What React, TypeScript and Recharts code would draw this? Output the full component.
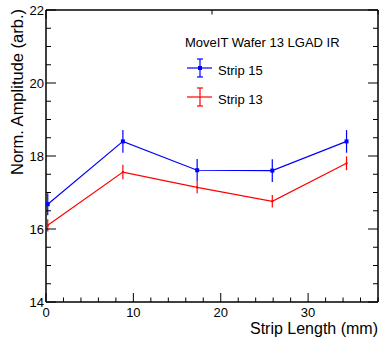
import { ComposedChart, Line, XAxis, YAxis, ErrorBar, Legend, Label } from 'recharts';

const stripLength = [0.2, 8.8, 17.3, 25.9, 34.4];
const strip15 = [16.68, 18.4, 17.61, 17.6, 18.4];
const strip15Err = [0.3, 0.31, 0.31, 0.31, 0.31];
const strip13 = [16.1, 17.56, 17.14, 16.76, 17.8];
const strip13Err = [0.17, 0.2, 0.16, 0.17, 0.19];

const xTicks = Array.from({ length: 20 }, (_, i) => i * 2);
const yTicks = Array.from({ length: 17 }, (_, i) => 14 + i * 0.5);
const xMajor = [0, 10, 20, 30];
const yMajor = [14, 16, 18, 20, 22];

const FONT = '"Liberation Sans", Arial, Helvetica, sans-serif';
const BLUE = '#0000ff';
const RED = '#ff0000';

const data = stripLength.map((x, i) => ({
  x,
  s15: strip15[i],
  s15Err: strip15Err[i],
  s13: strip13[i],
  s13Err: strip13Err[i],
}));

const XTick = ({ x, y, payload, top }: any) => {
  const major = xMajor.includes(payload.value);
  const len = major ? 9 : 4.5;
  const dir = top ? 1 : -1;
  return (
    <g>
      <line x1={x} y1={y} x2={x} y2={y + dir * len} stroke="#000" strokeWidth={1} />
      {!top && major && (
        <text x={x} y={y + 15} textAnchor="middle" fontSize={13} fontFamily={FONT} fill="#000">
          {payload.value}
        </text>
      )}
    </g>
  );
};

const YTick = ({ x, y, payload, right }: any) => {
  const major = yMajor.includes(payload.value);
  const len = major ? 10 : 5;
  const dir = right ? -1 : 1;
  return (
    <g>
      <line x1={x} y1={y} x2={x + dir * len} y2={y} stroke="#000" strokeWidth={1} />
      {!right && major && (
        <text x={x - 2} y={y + 4.5} textAnchor="end" fontSize={13} fontFamily={FONT} fill="#000">
          {payload.value}
        </text>
      )}
    </g>
  );
};

const BlueDot = ({ cx, cy }: any) => (
  <rect x={cx - 2} y={cy - 2} width={4} height={4} fill={BLUE} />
);
const RedDot = ({ cx, cy }: any) => (
  <rect x={cx - 1} y={cy - 1} width={2} height={2} fill={RED} />
);

const LegendBox = () => (
  <svg width={382} height={120} style={{ display: 'block' }}>
    <text x={185} y={47} fontSize={13} fontFamily={FONT} fill="#000">
      MoveIT Wafer 13 LGAD IR
    </text>
    <g stroke={BLUE} strokeWidth={1.2}>
      <line x1={187} y1={68} x2={212} y2={68} />
      <line x1={200} y1={59} x2={200} y2={77} />
      <line x1={197} y1={59} x2={203} y2={59} />
      <line x1={197} y1={77} x2={203} y2={77} />
    </g>
    <rect x={198} y={66} width={4} height={4} fill={BLUE} />
    <text x={218} y={74.5} fontSize={13} fontFamily={FONT} fill="#000">
      Strip 15
    </text>
    <g stroke={RED} strokeWidth={1.2}>
      <line x1={187} y1={97} x2={212} y2={97} />
      <line x1={200} y1={88} x2={200} y2={106} />
      <line x1={197} y1={88} x2={203} y2={88} />
      <line x1={197} y1={106} x2={203} y2={106} />
    </g>
    <text x={218} y={103.5} fontSize={13} fontFamily={FONT} fill="#000">
      Strip 13
    </text>
  </svg>
);

export default function App() {
  return (
    <div style={{ position: 'absolute', left: 0, top: 0, background: '#fff' }}>
      <ComposedChart
        width={382}
        height={337}
        data={data}
        margin={{ top: 0, right: 0, left: 0, bottom: 0 }}
      >
        <XAxis
          xAxisId="b"
          dataKey="x"
          type="number"
          domain={[0, 38]}
          ticks={xTicks}
          interval={0}
          allowDataOverflow
          height={35}
          tickSize={0}
          tickMargin={0}
          tickLine={false}
          tick={<XTick />}
          axisLine={{ stroke: '#000', strokeWidth: 1.5 }}
        >
          <Label
            content={({ viewBox }: any) => (
              <text
                x={viewBox.x + viewBox.width}
                y={viewBox.y + 32}
                textAnchor="end"
                fontSize={16}
                fontFamily={FONT}
                fill="#000"
              >
                Strip Length (mm)
              </text>
            )}
          />
        </XAxis>
        <XAxis
          xAxisId="t"
          orientation="top"
          type="number"
          domain={[0, 38]}
          ticks={xTicks}
          interval={0}
          allowDataOverflow
          height={10}
          tickSize={0}
          tickMargin={0}
          tickLine={false}
          tick={<XTick top />}
          axisLine={{ stroke: '#000', strokeWidth: 1.5 }}
        />
        <YAxis
          yAxisId="l"
          type="number"
          domain={[14, 22]}
          ticks={yTicks}
          interval={0}
          allowDataOverflow
          width={46}
          tickSize={0}
          tickMargin={0}
          tickLine={false}
          tick={<YTick />}
          axisLine={{ stroke: '#000', strokeWidth: 1.5 }}
        >
          <Label
            content={({ viewBox }: any) => (
              <text
                x={23}
                y={viewBox.y - 1}
                transform={`rotate(-90 23 ${viewBox.y - 1})`}
                textAnchor="end"
                fontSize={16.5}
                fontFamily={FONT}
                fill="#000"
              >
                Norm. Amplitude (arb.)
              </text>
            )}
          />
        </YAxis>
        <YAxis
          yAxisId="r"
          orientation="right"
          type="number"
          domain={[14, 22]}
          ticks={yTicks}
          interval={0}
          allowDataOverflow
          width={4}
          tickSize={0}
          tickMargin={0}
          tickLine={false}
          tick={<YTick right />}
          axisLine={{ stroke: '#000', strokeWidth: 1.5 }}
        />
        <Legend
          layout="vertical"
          align="center"
          verticalAlign="middle"
          content={() => <LegendBox />}
          wrapperStyle={{ left: 0, top: 0, width: 382, height: 120, pointerEvents: 'none' }}
        />
        <Line
          xAxisId="b"
          yAxisId="l"
          type="linear"
          dataKey="s15"
          stroke={BLUE}
          strokeWidth={1.2}
          dot={<BlueDot />}
          activeDot={false}
          isAnimationActive={false}
        >
          <ErrorBar dataKey="s15Err" width={0} stroke={BLUE} strokeWidth={1.2} direction="y" isAnimationActive={false} />
        </Line>
        <Line
          xAxisId="b"
          yAxisId="l"
          type="linear"
          dataKey="s13"
          stroke={RED}
          strokeWidth={1.2}
          dot={<RedDot />}
          activeDot={false}
          isAnimationActive={false}
        >
          <ErrorBar dataKey="s13Err" width={0} stroke={RED} strokeWidth={1.2} direction="y" isAnimationActive={false} />
        </Line>
      </ComposedChart>
    </div>
  );
}
